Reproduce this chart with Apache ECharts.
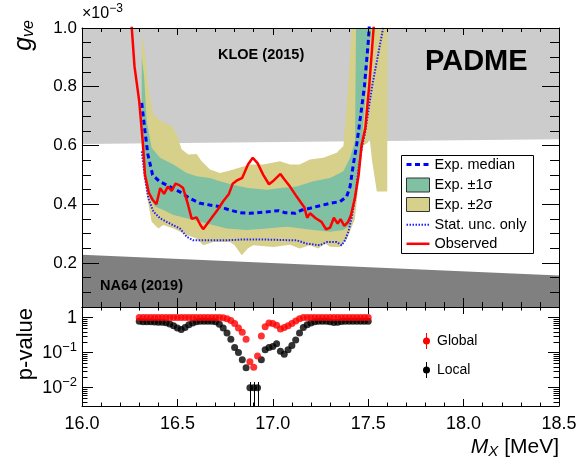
<!DOCTYPE html>
<html>
<head>
<meta charset="utf-8">
<script src="https://cdn.jsdelivr.net/npm/echarts@6/dist/echarts.min.js"></script>
<style>
  html, body { margin: 0; padding: 0; background: #ffffff; }
  #chart { width: 579px; height: 459px; }
</style>
</head>
<body>
<div id="chart"></div>
<script>
// ---------------- data ----------------
// Excluded regions (coupling in units of 1e-3)
const kloeMass = [16.0, 18.5];
const kloeLower = [0.605, 0.621];
const na64Mass = [16.0, 18.5];
const na64Upper = [0.228, 0.157];

// Observed limit
const obsMass = [16.25, 16.275, 16.30, 16.32, 16.33, 16.35, 16.37, 16.39, 16.41, 16.43, 16.45, 16.47, 16.49, 16.51, 16.53, 16.555, 16.575, 16.60, 16.62, 16.635, 16.67, 16.71, 16.74, 16.77, 16.79, 16.81, 16.84, 16.87, 16.895, 16.92, 16.95, 16.98, 17.00, 17.04, 17.06, 17.09, 17.125, 17.15, 17.165, 17.18, 17.195, 17.225, 17.255, 17.28, 17.30, 17.32, 17.34, 17.355, 17.375, 17.395, 17.41, 17.43, 17.45, 17.465, 17.485, 17.505, 17.54];
const obsG = [1.10, 0.87, 0.75, 0.60, 0.50, 0.44, 0.415, 0.40, 0.455, 0.435, 0.46, 0.445, 0.47, 0.465, 0.455, 0.40, 0.35, 0.355, 0.33, 0.315, 0.345, 0.38, 0.41, 0.435, 0.47, 0.48, 0.49, 0.535, 0.558, 0.54, 0.50, 0.468, 0.478, 0.503, 0.485, 0.46, 0.426, 0.403, 0.39, 0.354, 0.369, 0.352, 0.34, 0.314, 0.32, 0.354, 0.334, 0.349, 0.326, 0.34, 0.363, 0.42, 0.50, 0.60, 0.66, 0.80, 1.10];

// Expected median
const medMass = [16.313, 16.33, 16.345, 16.37, 16.405, 16.46, 16.51, 16.565, 16.62, 16.67, 16.72, 16.775, 16.83, 16.88, 16.93, 16.985, 17.03, 17.065, 17.116, 17.151, 17.195, 17.247, 17.30, 17.352, 17.387, 17.405, 17.422, 17.44, 17.46, 17.48, 17.50, 17.51];
const medG = [0.745, 0.65, 0.57, 0.50, 0.478, 0.46, 0.443, 0.42, 0.403, 0.397, 0.392, 0.38, 0.371, 0.369, 0.372, 0.375, 0.378, 0.371, 0.369, 0.38, 0.386, 0.395, 0.403, 0.409, 0.426, 0.46, 0.535, 0.604, 0.70, 0.80, 0.95, 1.05];

// Statistical uncertainty only
const statMass = [16.313, 16.33, 16.348, 16.374, 16.409, 16.461, 16.514, 16.549, 16.583, 16.65, 16.75, 16.85, 16.95, 17.05, 17.125, 17.177, 17.247, 17.282, 17.335, 17.361, 17.378, 17.396, 17.413, 17.431, 17.448, 17.466, 17.483, 17.52, 17.59];
const statG = [0.58, 0.489, 0.42, 0.375, 0.352, 0.334, 0.317, 0.289, 0.277, 0.277, 0.277, 0.28, 0.28, 0.278, 0.277, 0.266, 0.26, 0.271, 0.271, 0.26, 0.277, 0.306, 0.352, 0.42, 0.512, 0.592, 0.64, 0.80, 1.04];

// ±1 sigma band edges
const lo1Mass = [16.313, 16.321, 16.339, 16.356, 16.383, 16.426, 16.479, 16.549, 16.654, 16.758, 16.863, 16.968, 17.073, 17.15, 17.212, 17.30, 17.37, 17.405, 17.43, 17.45, 17.47, 17.49, 17.516, 17.53];
const lo1G = [0.60, 0.57, 0.478, 0.42, 0.392, 0.38, 0.363, 0.352, 0.334, 0.317, 0.312, 0.317, 0.323, 0.317, 0.312, 0.306, 0.312, 0.329, 0.42, 0.52, 0.64, 0.80, 1.0, 1.2];
const hi1Mass = [16.313, 16.325, 16.339, 16.365, 16.409, 16.479, 16.549, 16.601, 16.671, 16.723, 16.79, 16.87, 16.97, 17.04, 17.125, 17.212, 17.30, 17.37, 17.405, 17.431, 17.436, 17.44];
const hi1G = [0.90, 0.84, 0.684, 0.592, 0.558, 0.535, 0.506, 0.495, 0.489, 0.478, 0.466, 0.455, 0.449, 0.455, 0.46, 0.478, 0.489, 0.512, 0.558, 0.615, 1.0, 1.2];

// ±2 sigma band edges
const lo2Mass = [16.313, 16.321, 16.339, 16.365, 16.40, 16.426, 16.479, 16.549, 16.60, 16.636, 16.688, 16.776, 16.80, 16.837, 16.87, 16.898, 17.003, 17.09, 17.14, 17.195, 17.238, 17.274, 17.30, 17.352, 17.39, 17.43, 17.445, 17.462, 17.475, 17.50, 17.505, 17.52, 17.545, 17.60, 17.60];
const lo2G = [0.58, 0.535, 0.432, 0.34, 0.317, 0.329, 0.317, 0.295, 0.283, 0.26, 0.271, 0.271, 0.26, 0.226, 0.25, 0.26, 0.254, 0.262, 0.249, 0.26, 0.249, 0.266, 0.255, 0.254, 0.283, 0.35, 0.443, 0.546, 0.60, 0.61, 0.64, 0.55, 0.443, 0.443, 1.2];
const hi2Mass = [16.313, 16.33, 16.347, 16.374, 16.409, 16.469, 16.496, 16.522, 16.557, 16.601, 16.627, 16.671, 16.723, 16.776, 16.88, 16.95, 17.038, 17.09, 17.14, 17.195, 17.265, 17.335, 17.37, 17.39, 17.414, 17.42];
const hi2G = [0.98, 0.913, 0.798, 0.707, 0.684, 0.667, 0.638, 0.587, 0.569, 0.571, 0.546, 0.518, 0.506, 0.515, 0.535, 0.535, 0.546, 0.535, 0.535, 0.552, 0.558, 0.575, 0.598, 0.75, 1.0, 1.2];

// p-values per scanned mass point
const pMass = [16.30, 16.32, 16.34, 16.36, 16.38, 16.40, 16.42, 16.44, 16.46, 16.48,
               16.50, 16.52, 16.54, 16.56, 16.58, 16.60, 16.62, 16.64, 16.66, 16.68,
               16.70, 16.72, 16.74, 16.76, 16.78, 16.80, 16.82, 16.84, 16.86, 16.88,
               16.90, 16.92, 16.94, 16.96, 16.98, 17.00, 17.02, 17.04, 17.06, 17.08,
               17.10, 17.12, 17.14, 17.16, 17.18, 17.20, 17.22, 17.24, 17.26, 17.28,
               17.30, 17.32, 17.34, 17.36, 17.38, 17.40, 17.42, 17.44, 17.46, 17.48, 17.50];
const pGlobal = [1, 1, 1, 1, 1, 1, 1, 1, 1, 1,
                 1, 1, 1, 1, 1, 1, 1, 1, 1, 1,
                 1, 1, 0.98, 0.92, 0.82, 0.68, 0.50, 0.38, 0.24, 0.055,
                 0.038, 0.08, 0.30, 0.55, 0.70, 0.68, 0.60, 0.47, 0.52, 0.58,
                 0.68, 0.80, 0.92, 1, 1, 1, 1, 1, 1, 1,
                 1, 1, 1, 1, 1, 1, 1, 1, 1, 1, 1];
const pLocal = [0.78, 0.76, 0.76, 0.76, 0.75, 0.74, 0.73, 0.71, 0.66, 0.58,
                0.50, 0.46, 0.52, 0.62, 0.70, 0.76, 0.78, 0.79, 0.79, 0.78,
                0.76, 0.64, 0.50, 0.36, 0.24, 0.14, 0.10, 0.063, 0.037, 0.01,
                0.01, 0.01, 0.063, 0.12, 0.14, 0.15, 0.18, 0.11, 0.09, 0.12,
                0.16, 0.23, 0.36, 0.52, 0.62, 0.70, 0.76, 0.78, 0.79, 0.79,
                0.76, 0.72, 0.74, 0.77, 0.78, 0.79, 0.79, 0.79, 0.79, 0.79, 0.79];
// Local points with large lower uncertainties
const pErrMass = [16.88, 16.90, 16.92];
const pErrHigh = [0.0145, 0.0145, 0.0145];
const pErrLow = [0.0005, 0.0005, 0.0005];

// Axis ranges and tick labels
const M_MIN = 16.0, M_MAX = 18.5, M_STEP = 0.5;
const G_MIN = 0.05, G_MAX = 1.0, G_MINOR = 0.05, G_LABEL_STEP = 0.2;
const P_MIN = 0.003, P_MAX = 2;
const pMinorTicks = [0.004, 0.005, 0.006, 0.007, 0.008, 0.009,
                     0.02, 0.03, 0.04, 0.05, 0.06, 0.07, 0.08, 0.09,
                     0.2, 0.3, 0.4, 0.5, 0.6, 0.7, 0.8, 0.9];

// ---------------- helpers ----------------
const FONT = "'Liberation Sans', Arial, Helvetica, sans-serif";
const BLACK = '#000000';
const zip = (a, b) => a.map((v, i) => [v, b[i]]);

// Filled polygon between a lower edge (ascending) and an upper edge (ascending)
function polygonSeries(lowerPts, upperPts, color, z) {
  const pts = lowerPts.concat(upperPts.slice().reverse());
  return {
    type: 'custom', xAxisIndex: 0, yAxisIndex: 0, clip: true, silent: true, z: z,
    data: [pts[0]],
    renderItem: function (params, api) {
      return {
        type: 'polygon',
        shape: { points: pts.map(p => api.coord(p)) },
        style: { fill: color, stroke: null }
      };
    }
  };
}

function curveSeries(pts, color, width, dash, z) {
  return {
    type: 'line', xAxisIndex: 0, yAxisIndex: 0, data: pts, showSymbol: false, symbol: 'none',
    clip: true, silent: true, z: z, animation: false,
    lineStyle: { color: color, width: width, type: dash }
  };
}

function massAxis(gridIndex, position, showLabels, majorLen, minorLen) {
  return {
    type: 'value', gridIndex: gridIndex, position: position, z: 10,
    min: M_MIN, max: M_MAX, interval: M_STEP,
    axisLine: { show: true, onZero: false, lineStyle: { color: BLACK, width: 1 } },
    axisTick: { show: true, inside: true, length: majorLen, lineStyle: { color: BLACK, width: 1 } },
    minorTick: { show: true, splitNumber: 5, length: minorLen, lineStyle: { color: BLACK, width: 1 } },
    axisLabel: {
      show: showLabels, margin: 9, color: BLACK, fontFamily: FONT, fontSize: 18,
      formatter: v => v.toFixed(1)
    },
    splitLine: { show: false }
  };
}

function couplingAxis(position, major, showLabels) {
  const ax = {
    type: 'value', gridIndex: 0, position: position, z: 10,
    min: G_MIN, max: G_MAX,
    axisLine: { show: major, onZero: false, lineStyle: { color: BLACK, width: 1 } },
    axisTick: { show: true, inside: true, length: major ? 17 : 9, lineStyle: { color: BLACK, width: 1 } },
    axisLabel: {
      show: showLabels, margin: 5, color: BLACK, fontFamily: FONT, fontSize: 17,
      formatter: function (v) {
        const r = v / G_LABEL_STEP;
        return Math.abs(r - Math.round(r)) < 1e-6 ? v.toFixed(1) : '';
      }
    },
    splitLine: { show: false }
  };
  if (!major) ax.interval = G_MINOR;
  return ax;
}

function pAxis(position, showLabels) {
  return {
    type: 'log', logBase: 10, gridIndex: 1, position: position, z: 10,
    min: P_MIN, max: P_MAX,
    axisLine: { show: true, onZero: false, lineStyle: { color: BLACK, width: 1 } },
    axisTick: { show: true, inside: true, length: 11, lineStyle: { color: BLACK, width: 1 } },
    axisLabel: {
      show: showLabels, margin: 5, color: BLACK, fontFamily: FONT, fontSize: 18,
      formatter: function (v) {
        const e = Math.log10(v);
        if (Math.abs(e - Math.round(e)) > 1e-6) return '';
        const k = Math.round(e);
        if (k === 0) return '{b|1}';
        return '{b|10}{s|\u2212' + Math.abs(k) + '}';
      },
      rich: {
        b: { fontFamily: FONT, fontSize: 18, color: BLACK },
        s: { fontFamily: FONT, fontSize: 13, color: BLACK, padding: [0, 0, 10, 0] }
      }
    },
    splitLine: { show: false }
  };
}

// ---------------- chart ----------------
const chart = echarts.init(document.getElementById('chart'), null, { renderer: 'canvas' });

const series = [
  // excluded regions
  polygonSeries(zip(kloeMass, kloeLower), kloeMass.map(m => [m, G_MAX]), '#cccccc', 1),
  polygonSeries(na64Mass.map(m => [m, G_MIN]), zip(na64Mass, na64Upper), '#808080', 1),
  // expected bands
  polygonSeries(zip(lo2Mass, lo2G), zip(hi2Mass, hi2G), '#d6d08b', 2),
  polygonSeries(zip(lo1Mass, lo1G), zip(hi1Mass, hi1G), '#80c1a3', 3),
  // limit curves
  curveSeries(zip(statMass, statG), '#2020ff', 2, [1.5, 1.5], 4),
  curveSeries(zip(medMass, medG), '#0000ff', 3, [5, 3.5], 5),
  curveSeries(zip(obsMass, obsG), '#ff0000', 2.5, 'solid', 6),
  // log minor ticks on both sides of the p-value panel
  {
    type: 'custom', xAxisIndex: 2, yAxisIndex: 4, silent: true, z: 12,
    data: pMinorTicks.map(v => [M_MIN, v]),
    renderItem: function (params, api) {
      const y = Math.round(api.coord([M_MIN, api.value(1)])[1]) + 0.5;
      const cs = params.coordSys;
      return {
        type: 'group', children: [
          { type: 'line', shape: { x1: cs.x, y1: y, x2: cs.x + 5.5, y2: y }, style: { stroke: BLACK, lineWidth: 1 } },
          { type: 'line', shape: { x1: cs.x + cs.width - 5.5, y1: y, x2: cs.x + cs.width, y2: y }, style: { stroke: BLACK, lineWidth: 1 } }
        ]
      };
    }
  },
  // error bars of the lowest local p-values
  {
    type: 'custom', xAxisIndex: 2, yAxisIndex: 4, silent: true, clip: true, z: 3,
    data: pErrMass.map((m, i) => [m, pErrLow[i], pErrHigh[i]]),
    renderItem: function (params, api) {
      const top = api.coord([api.value(0), api.value(2)]);
      const bot = api.coord([api.value(0), api.value(1)]);
      const x = Math.round(top[0]) + 0.5;
      return { type: 'line', shape: { x1: x, y1: top[1], x2: x, y2: bot[1] }, style: { stroke: BLACK, lineWidth: 1 } };
    }
  },
  {
    type: 'scatter', xAxisIndex: 2, yAxisIndex: 4, data: zip(pMass, pLocal), symbol: 'circle', symbolSize: 7,
    itemStyle: { color: BLACK }, silent: true, z: 4
  },
  {
    type: 'scatter', xAxisIndex: 2, yAxisIndex: 4, data: zip(pMass, pGlobal), symbol: 'circle', symbolSize: 7,
    itemStyle: { color: '#ff0000' }, silent: true, z: 5
  }
];

const legendRows = [
  { kind: 'dash', label: 'Exp. median' },
  { kind: 'box', color: '#80c1a3', label: 'Exp. \u00b11\u03c3' },
  { kind: 'box', color: '#d6d08b', label: 'Exp. \u00b12\u03c3' },
  { kind: 'dot', label: 'Stat. unc. only' },
  { kind: 'line', label: 'Observed' }
];
const legendRowY = [9, 29.5, 49, 69.3, 88.3];

const legendChildren = [
  { type: 'rect', shape: { x: 0, y: 0, width: 132, height: 98 }, style: { fill: '#ffffff', stroke: BLACK, lineWidth: 1 } }
];
legendRows.forEach(function (row, i) {
  const cy = legendRowY[i];
  if (row.kind === 'box') {
    legendChildren.push({ type: 'rect', shape: { x: 5, y: cy - 7, width: 23, height: 14 }, style: { fill: row.color, stroke: '#333333', lineWidth: 1 } });
  } else if (row.kind === 'dash') {
    legendChildren.push({ type: 'line', shape: { x1: 5, y1: cy, x2: 28, y2: cy }, style: { stroke: '#0000ff', lineWidth: 3, lineDash: [5, 3.5] } });
  } else if (row.kind === 'dot') {
    legendChildren.push({ type: 'line', shape: { x1: 5, y1: cy, x2: 28, y2: cy }, style: { stroke: '#2020ff', lineWidth: 2, lineDash: [1.5, 1.5] } });
  } else {
    legendChildren.push({ type: 'line', shape: { x1: 5, y1: cy, x2: 28, y2: cy }, style: { stroke: '#ff0000', lineWidth: 2.5 } });
  }
  legendChildren.push({
    type: 'text', x: 33, y: cy,
    style: { text: row.label, fill: BLACK, font: '14.5px ' + FONT, verticalAlign: 'middle', align: 'left' }
  });
});

const graphic = [
  // y-axis multiplier
  {
    type: 'text', x: 82, y: 3, z: 100,
    style: {
      text: '{a|\u00d710}{b|\u22123}', verticalAlign: 'top', align: 'left',
      rich: {
        a: { fontFamily: FONT, fontSize: 16, fill: BLACK },
        b: { fontFamily: FONT, fontSize: 12, fill: BLACK, padding: [0, 0, 9, 0] }
      }
    }
  },
  // axis titles
  {
    type: 'text', x: 24, y: 20, rotation: Math.PI / 2, z: 100,
    style: {
      text: '{g|g}{s|ve}', align: 'right', verticalAlign: 'middle',
      rich: {
        g: { fontFamily: FONT, fontSize: 25, fontStyle: 'italic', fill: BLACK },
        s: { fontFamily: FONT, fontSize: 16, fontStyle: 'italic', fill: BLACK, padding: [10, 0, 0, 0] }
      }
    }
  },
  {
    type: 'text', x: 26, y: 308, rotation: Math.PI / 2, z: 100,
    style: { text: 'p-value', align: 'right', verticalAlign: 'middle', font: '22px ' + FONT, fill: BLACK }
  },
  {
    type: 'text', x: 559, y: 447, z: 100,
    style: {
      text: '{m|M}{x|X}{t| [MeV]}', align: 'right', verticalAlign: 'middle',
      rich: {
        m: { fontFamily: FONT, fontSize: 21, fontStyle: 'italic', fill: BLACK },
        x: { fontFamily: FONT, fontSize: 15, fontStyle: 'italic', fill: BLACK, padding: [9, 0, 0, 0] },
        t: { fontFamily: FONT, fontSize: 21, fill: BLACK }
      }
    }
  },
  // region and experiment labels
  { type: 'text', x: 218, y: 55, z: 100, style: { text: 'KLOE (2015)', font: 'bold 14.5px ' + FONT, fill: BLACK, verticalAlign: 'middle' } },
  { type: 'text', x: 425, y: 62, z: 100, style: { text: 'PADME', font: 'bold 29px ' + FONT, fill: BLACK, verticalAlign: 'middle' } },
  { type: 'text', x: 100, y: 286, z: 100, style: { text: 'NA64 (2019)', font: 'bold 14.5px ' + FONT, fill: BLACK, verticalAlign: 'middle' } },
  // limit legend
  { type: 'group', x: 401.5, y: 155.5, z: 100, children: legendChildren },
  // p-value legend
  {
    type: 'group', x: 0, y: 0, z: 100, children: [
      { type: 'line', shape: { x1: 426.5, y1: 333, x2: 426.5, y2: 349 }, style: { stroke: '#ff0000', lineWidth: 1 } },
      { type: 'circle', shape: { cx: 426.5, cy: 341, r: 3.5 }, style: { fill: '#ff0000' } },
      { type: 'text', x: 437, y: 341, style: { text: 'Global', font: '14px ' + FONT, fill: BLACK, verticalAlign: 'middle' } },
      { type: 'line', shape: { x1: 426.5, y1: 362, x2: 426.5, y2: 378 }, style: { stroke: BLACK, lineWidth: 1 } },
      { type: 'circle', shape: { cx: 426.5, cy: 370, r: 3.5 }, style: { fill: BLACK } },
      { type: 'text', x: 437, y: 370, style: { text: 'Local', font: '14px ' + FONT, fill: BLACK, verticalAlign: 'middle' } }
    ]
  }
];

chart.setOption({
  animation: false,
  backgroundColor: '#ffffff',
  textStyle: { fontFamily: FONT },
  grid: [
    { left: 82, top: 28, width: 477, height: 279, containLabel: false, outerBoundsMode: 'none' },
    { left: 82, top: 307, width: 477, height: 99, containLabel: false, outerBoundsMode: 'none' }
  ],
  xAxis: [
    massAxis(0, 'bottom', false, 9, 5),
    massAxis(0, 'top', false, 7, 4),
    massAxis(1, 'bottom', true, 7, 3.5),
    massAxis(1, 'top', false, 7, 3.5)
  ],
  yAxis: [
    couplingAxis('left', true, true),
    couplingAxis('left', false, false),
    couplingAxis('right', true, false),
    couplingAxis('right', false, false),
    pAxis('left', true),
    pAxis('right', false)
  ],
  series: series,
  graphic: graphic
});
</script>
</body>
</html>
